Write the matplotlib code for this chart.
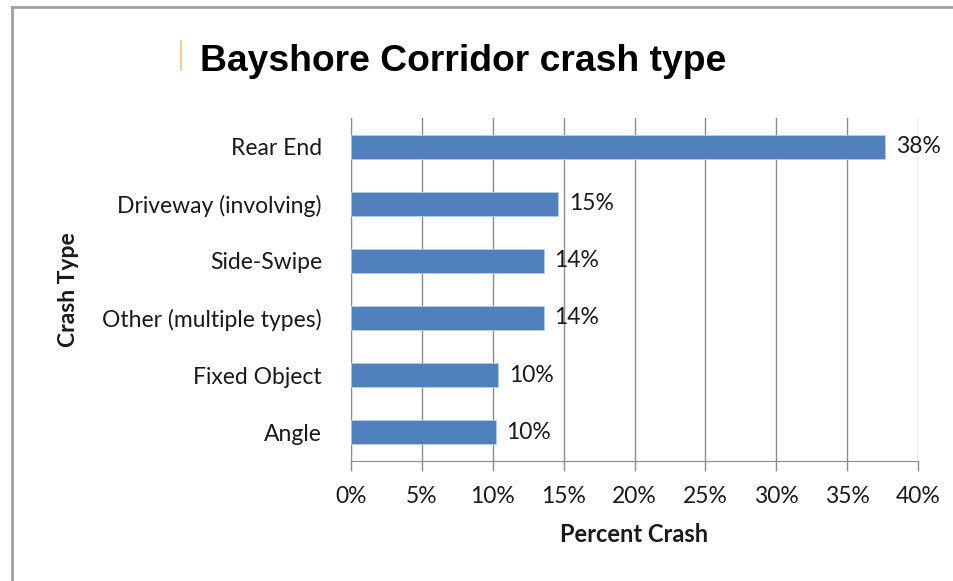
import matplotlib.pyplot as plt
from matplotlib.lines import Line2D

# data (top to bottom)
categories = ['Rear End', 'Driveway (involving)', 'Side-Swipe', 'Other (multiple types)', 'Fixed Object', 'Angle']
values = [37.7, 14.6, 13.6, 13.6, 10.4, 10.2]
labels = ['38%', '15%', '14%', '14%', '10%', '10%']
xticks = [0, 5, 10, 15, 20, 25, 30, 35, 40]

plt.rcParams['font.family'] = ['Lato', 'DejaVu Sans']
fs = 16.5

fig = plt.figure(figsize=(9.54, 5.81), dpi=100)
ax = fig.add_axes([0.368, 0.207, 0.5943, 0.590])

ypos = list(range(len(categories)))[::-1]
ax.barh(ypos, values, height=0.42, color='#4F81BD', edgecolor='#B9CDE5', linewidth=0.6, zorder=3)

for y, v, t in zip(ypos, values, labels):
    ax.text(v + 0.75, y, t, va='center', ha='left', fontsize=fs, color='#1a1a1a', zorder=4)

ax.set_xlim(0, 40)
ax.set_ylim(-0.5, len(categories) - 0.5)
ax.set_xticks(xticks)
ax.set_xticklabels([f'{x}%' for x in xticks], fontsize=fs, color='#1a1a1a')
ax.set_yticks(ypos)
ax.set_yticklabels(categories, fontsize=fs, color='#1a1a1a')
ax.tick_params(axis='y', length=0, pad=21)
ax.tick_params(axis='x', length=7, width=1, color='#8c8c8c', pad=11)

ax.xaxis.grid(True, color='#8c8c8c', linewidth=1, zorder=0)
for s in ['top', 'right']:
    ax.spines[s].set_visible(False)
ax.spines['left'].set_color('#8c8c8c')
ax.spines['bottom'].set_color('#8c8c8c')

ax.set_xlabel('Percent Crash', fontsize=17, fontweight='bold', color='#1a1a1a', labelpad=12)
ax.set_ylabel('Crash Type', fontsize=fs, fontweight='bold', color='#1a1a1a')
ax.yaxis.set_label_coords(-0.48, 0.5)

fig.text(0.2096, 0.895, 'Bayshore Corridor crash type', fontsize=26.8, fontweight='bold',
         family='Liberation Sans', va='center', ha='left')
# little orange mark before the title
fig.add_artist(Line2D([0.1895, 0.1895], [0.88, 0.93], color='#F5C27A', linewidth=1.2))

# outer frame (left and top only)
fig.add_artist(Line2D([0.013, 0.013], [0.0, 0.988], color='#A0A0A0', linewidth=2))
fig.add_artist(Line2D([0.013, 1.0], [0.988, 0.988], color='#A0A0A0', linewidth=2))

fig.savefig('out.png', dpi=100)
